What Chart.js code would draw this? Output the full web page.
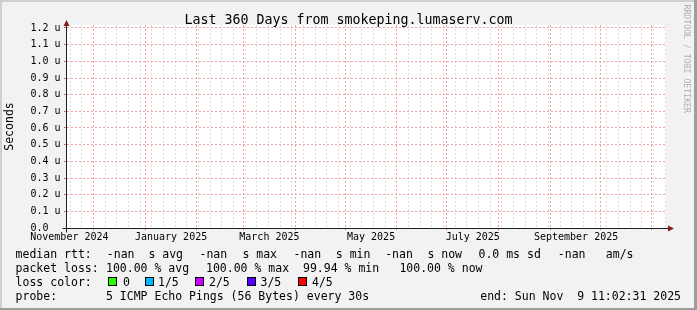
<!DOCTYPE html>
<html>
<head>
<meta charset="utf-8">
<script src="https://cdn.jsdelivr.net/npm/chart.js@4.4.0/dist/chart.umd.min.js"></script>
<style>
  html, body { margin: 0; padding: 0; background: #f2f2f2; }
  #wrap { width: 697px; height: 310px; }
</style>
</head>
<body>
<div id="wrap"><canvas id="myChart"></canvas></div>
<script>
// time range of the graph (360 days ending Sun Nov 9 11:02:31 2025)
const startTime = '2024-11-14T11:02:31Z';
const spanDays = 360;

// major grid (month starts), minor grid (weeks, first Sunday), labels
const monthLines = ['2024-12-01', '2025-01-01', '2025-02-01', '2025-03-01', '2025-04-01', '2025-05-01',
                    '2025-06-01', '2025-07-01', '2025-08-01', '2025-09-01', '2025-10-01', '2025-11-01'];
const firstWeekLine = '2024-11-17';
const monthLabels = ['November 2024', 'January 2025', 'March 2025', 'May 2025', 'July 2025', 'September 2025'];
const monthLabelDates = ['2024-11-16T12:00Z', '2025-01-16T12:00Z', '2025-03-16T12:00Z',
                         '2025-05-16T12:00Z', '2025-07-16T12:00Z', '2025-09-16T12:00Z'];

const yTicks = [0, 0.1, 0.2, 0.3, 0.4, 0.5, 0.6, 0.7, 0.8, 0.9, 1.0, 1.1, 1.2];
const yTickLabels = ['0.0  ', '0.1 u', '0.2 u', '0.3 u', '0.4 u', '0.5 u', '0.6 u',
                     '0.7 u', '0.8 u', '0.9 u', '1.0 u', '1.1 u', '1.2 u'];
const yMax = 1.218;

// median rtt: no answers in the whole period (all -nan)
const medianRtt = [];

// legend values
const rttStatNames = ['avg', 'max', 'min', 'now'];
const rttStatValues = ['-nan', '-nan', '-nan', '-nan'];
const rttSd = '0.0';
const rttAmS = '-nan';
const lossStatNames = ['avg', 'max', 'min', 'now'];
const lossStatValues = ['100.00', '100.00', '99.94', '100.00'];
const lossColorLabels = ['0', '1/5', '2/5', '3/5', '4/5'];
const lossColors = ['#26ff00', '#00b8ff', '#cc00ff', '#5500ff', '#ff0000'];
const probeText = '5 ICMP Echo Pings (56 Bytes) every 30s';
const endText = 'end: Sun Nov  9 11:02:31 2025';
const titleText = 'Last 360 Days from smokeping.lumaserv.com';

const MONO = '"DejaVu Sans Mono", monospace';
const MAJOR = '#eea2a2';
const MINOR = '#dadada';
const dayOf = s => (Date.parse(s) - Date.parse(startTime)) / 86400000;

const rrdPlugin = {
    id: 'rrd',
    beforeDraw(chart) {
        const c = chart.ctx, w = chart.width, h = chart.height, a = chart.chartArea;
        c.save();
        c.fillStyle = '#f2f2f2';
        c.fillRect(0, 0, w, h);
        // shade A top/left, shade B bottom/right
        c.fillStyle = '#cfcfcf';
        c.fillRect(0, 0, w, 2);
        c.fillRect(0, 0, 2, h);
        c.fillStyle = '#9e9e9e';
        c.fillRect(0, h - 2, w, 2);
        c.fillRect(w - 3, 0, 3, h);
        c.fillStyle = '#ffffff';
        c.fillRect(a.left, a.top, a.right - a.left, a.bottom - a.top);
        c.restore();
    },
    afterDraw(chart) {
        const c = chart.ctx;
        const xs = chart.scales.x, ys = chart.scales.y;
        const x0 = Math.round(xs.getPixelForValue(0)) + 0.5;
        const x1 = xs.getPixelForValue(spanDays);
        const y0 = Math.round(ys.getPixelForValue(0)) + 0.5;
        const y1 = ys.getPixelForValue(yMax);
        c.save();
        // axes with small overhang
        c.strokeStyle = '#1f1f1f';
        c.lineWidth = 1;
        c.beginPath();
        c.moveTo(x0 - 4, y0); c.lineTo(x1 + 2, y0);
        c.moveTo(x0, y0 + 4); c.lineTo(x0, y1);
        c.stroke();
        // arrows
        c.fillStyle = '#801f1f';
        c.beginPath();
        c.moveTo(x1 + 2, y0 - 3); c.lineTo(x1 + 8, y0); c.lineTo(x1 + 2, y0 + 3);
        c.closePath(); c.fill();
        c.beginPath();
        c.moveTo(x0 - 3, y1 + 1); c.lineTo(x0, y1 - 5); c.lineTo(x0 + 3, y1 + 1);
        c.closePath(); c.fill();

        // title
        c.fillStyle = '#000';
        c.font = '13.3px ' + MONO;
        c.textAlign = 'center';
        c.textBaseline = 'alphabetic';
        c.fillText(titleText, chart.width / 2, 24);

        // watermark
        c.save();
        c.translate(686, 4.5);
        c.rotate(Math.PI / 2);
        c.fillStyle = '#b0b0b0';
        c.font = '8.2px ' + MONO;
        c.textAlign = 'left';
        c.textBaseline = 'middle';
        c.fillText('RRDTOOL / TOBI OETIKER', 0, 0);
        c.restore();

        // legend
        c.font = '11.5px ' + MONO;
        c.textAlign = 'left';
        c.fillStyle = '#000';
        const rows = [258, 272.2, 286.3, 300.4];
        const labelX = 15.6;
        c.fillText('median rtt:', labelX, rows[0]);
        const rttValX = [106.8, 199.5, 293.5, 385.2];
        const rttUnitX = [148.4, 242.4, 335.8, 427.4];
        rttStatValues.forEach((v, i) => {
            c.fillText(v, rttValX[i], rows[0]);
            c.fillText('s ' + rttStatNames[i], rttUnitX[i], rows[0]);
        });
        c.fillText(rttSd + ' ms sd', 478.5, rows[0]);
        c.fillText(rttAmS, 557.8, rows[0]);
        c.fillText('am/s', 605.8, rows[0]);

        c.fillText('packet loss:', labelX, rows[1]);
        const lossX = [106, 206, 303, 399.4];
        lossStatValues.forEach((v, i) => {
            c.fillText(v + ' % ' + lossStatNames[i], lossX[i], rows[1]);
        });

        c.fillText('loss color:', labelX, rows[2]);
        const boxX = [108, 145, 195, 247, 298];
        const boxLabelX = [123, 158, 209, 260.5, 312];
        lossColorLabels.forEach((lab, i) => {
            c.fillStyle = lossColors[i];
            c.fillRect(boxX[i], 277, 9, 9);
            c.strokeStyle = '#000';
            c.strokeRect(boxX[i] + 0.5, 277.5, 8, 8);
            c.fillStyle = '#000';
            c.fillText(lab, boxLabelX[i], rows[2]);
        });

        c.fillText('probe:', labelX, rows[3]);
        c.fillText(probeText, 106, rows[3]);
        c.textAlign = 'right';
        c.fillText(endText, 681, rows[3]);
        c.restore();
    }
};

Chart.defaults.font.family = MONO;

const ctx = document.getElementById('myChart').getContext('2d');
const chart = new Chart(ctx, {
    type: 'line',
    data: {
        datasets: [{
            label: 'median rtt',
            data: medianRtt,
            borderColor: '#26ff00',
            pointRadius: 0
        }]
    },
    options: {
        responsive: true,
        maintainAspectRatio: false,
        animation: false,
        layout: { padding: { top: 25, right: 31, left: 0, bottom: 0 } },
        plugins: {
            legend: { display: false },
            title: { display: false },
            tooltip: { enabled: false }
        },
        scales: {
            x: {
                type: 'linear', position: 'bottom', min: 0, max: spanDays, weight: 0,
                afterBuildTicks: s => { s.ticks = monthLines.map(d => ({ value: dayOf(d) })); },
                afterFit: s => { s.height = 0; },
                ticks: { display: false },
                grid: { color: MAJOR, tickColor: '#d46a6a', tickLength: 2, z: -1 },
                border: { display: true, color: '#1f1f1f', dash: [2, 2] }
            },
            xMinor: {
                type: 'linear', position: 'bottom', min: 0, max: spanDays, weight: 0,
                afterBuildTicks: s => {
                    const t = [];
                    for (let d = dayOf(firstWeekLine); d <= spanDays; d += 7) t.push({ value: d });
                    s.ticks = t;
                },
                afterFit: s => { s.height = 0; },
                ticks: { display: false },
                grid: { color: MINOR, drawTicks: false, z: -3 },
                border: { display: false, dash: [2, 2] }
            },
            xLabels: {
                type: 'linear', position: 'bottom', min: 0, max: spanDays, weight: 1,
                afterBuildTicks: s => { s.ticks = monthLabelDates.map(d => ({ value: dayOf(d) })); },
                afterFit: s => { s.height = 82; },
                ticks: {
                    autoSkip: false, maxRotation: 0, minRotation: 0, padding: 3.5,
                    color: '#000', font: { family: MONO, size: 10 },
                    callback: (v, i) => monthLabels[i]
                },
                grid: { display: false, drawTicks: false },
                border: { display: false }
            },
            y: {
                type: 'linear', position: 'left', min: 0, max: yMax,
                afterBuildTicks: s => { s.ticks = yTicks.map(v => ({ value: v })); },
                afterFit: s => { s.width = 66; },
                ticks: {
                    autoSkip: false, padding: 3.4, color: '#000',
                    font: { family: MONO, size: 10 },
                    callback: (v, i) => yTickLabels[i]
                },
                grid: { color: MAJOR, tickColor: '#d46a6a', tickLength: 2, z: -2 },
                border: { display: true, color: '#1f1f1f', dash: [2, 2] },
                title: {
                    display: true, text: 'Seconds', color: '#000',
                    font: { family: MONO, size: 11.5 },
                    padding: { top: 3.6, bottom: 0 }
                }
            }
        }
    },
    plugins: [rrdPlugin]
});
</script>
</body>
</html>
